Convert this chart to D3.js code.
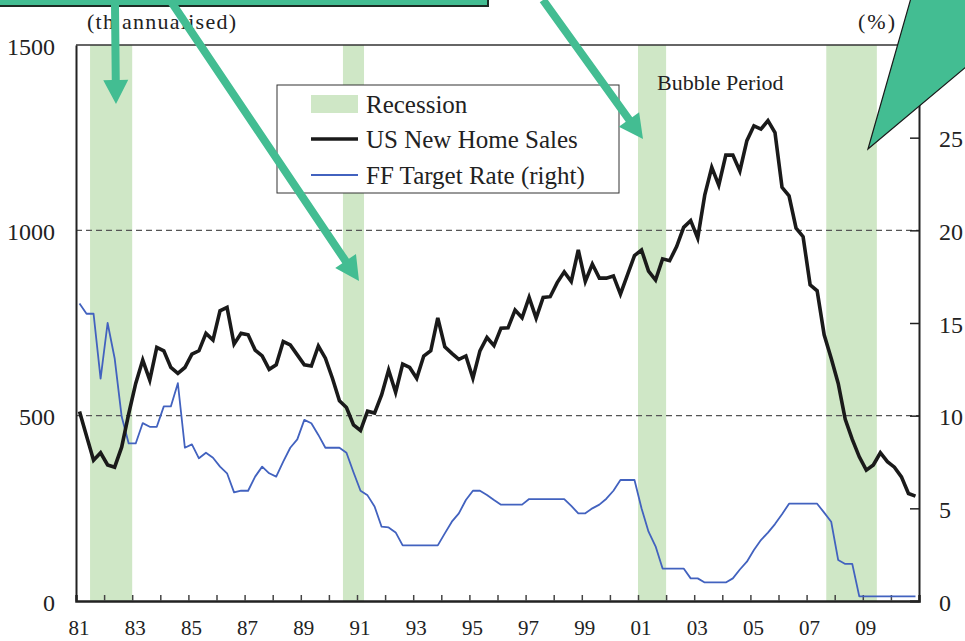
<!DOCTYPE html>
<html>
<head>
<meta charset="utf-8">
<script src="https://cdn.jsdelivr.net/npm/d3@7"></script>
<style>
  body { margin: 0; background: #fff; }
  svg { display: block; font-family: "Liberation Serif", "Times New Roman", serif; }
</style>
</head>
<body>
<div id="chart"></div>
<script>
// quarterly data, 1981Q1 .. 2010Q4
const startYear = 1981;

// US new home sales (thousand, annualised)
const homeSales = [
    511, 445, 380, 400,
    367, 361, 415, 505,
    587, 650, 596, 684,
    675, 630, 614, 630,
    666, 675, 722, 704,
    783, 792, 693, 722,
    718, 677, 661, 625,
    637, 700, 691, 664,
    637, 634, 688, 655,
    601, 540, 522, 475,
    460, 512, 507, 556,
    623, 563, 639, 630,
    601, 661, 675, 764,
    686, 668, 652, 661,
    601, 675, 711, 689,
    736, 737, 785, 764,
    819, 763, 819, 821,
    859, 888, 862, 947,
    862, 909, 871, 871,
    877, 828, 880, 932,
    947, 890, 866, 923,
    918, 956, 1008, 1026,
    979, 1095, 1170, 1122,
    1203, 1203, 1160, 1242,
    1282, 1273, 1296, 1264,
    1116, 1093, 1006, 983,
    853, 837, 718, 655,
    587, 490, 436, 389,
    353, 367, 400, 376,
    361, 335, 290, 283
];

// FF target rate (%)
const ffRate = [
    16.05, 15.5, 15.5, 12.0,
    15.0, 13.1, 9.95, 8.5,
    8.5, 9.6, 9.4, 9.4,
    10.5, 10.5, 11.75, 8.27,
    8.45, 7.7, 8.0, 7.73,
    7.25, 6.89, 5.86, 5.95,
    5.95, 6.71, 7.25, 6.89,
    6.71, 7.52, 8.27, 8.72,
    9.77, 9.59, 8.96, 8.27,
    8.27, 8.27, 8.0, 6.95,
    5.95, 5.7, 5.1, 4.01,
    3.97, 3.7, 3.0, 3.0,
    3.0, 3.0, 3.0, 3.0,
    3.65, 4.28, 4.73, 5.45,
    5.95, 5.95, 5.72, 5.45,
    5.2, 5.2, 5.2, 5.2,
    5.5, 5.5, 5.5, 5.5,
    5.5, 5.5, 5.13, 4.73,
    4.73, 5.0, 5.2, 5.52,
    5.95, 6.53, 6.53, 6.53,
    5.0, 3.74, 2.95, 1.75,
    1.75, 1.75, 1.75, 1.22,
    1.22, 1.0, 1.0, 1.0,
    1.0, 1.22, 1.7, 2.12,
    2.75, 3.29, 3.69, 4.15,
    4.68, 5.25, 5.25, 5.25,
    5.25, 5.25, 4.77, 4.28,
    2.21, 2.0, 2.0, 0.25,
    0.25, 0.25, 0.25, 0.25,
    0.25, 0.25, 0.25, 0.25
];

// recession periods [start, end] in years
const recessions = [[1981.5, 1983.0], [1990.5, 1991.25], [2001.0, 2002.0], [2007.7, 2009.5]];

const xLabels = ["81", "83", "85", "87", "89", "91", "93", "95", "97", "99", "01", "03", "05", "07", "09"];
const leftTicks = [0, 500, 1000, 1500];
const rightTicks = [0, 5, 10, 15, 20, 25];
const gridValues = [500, 1000];

const legendItems = ["Recession", "US New Home Sales", "FF Target Rate (right)"];

const width = 965, height = 641;
const margin = { top: 45, right: 46, bottom: 40, left: 76 };
const innerW = width - margin.left - margin.right;
const innerH = height - margin.top - margin.bottom;

const svg = d3.select("#chart").append("svg")
    .attr("width", width)
    .attr("height", height);

const g = svg.append("g").attr("transform", `translate(${margin.left},${margin.top})`);

const x = d3.scaleLinear().domain([1981, 2011]).range([0, innerW]);
const yL = d3.scaleLinear().domain([0, 1500]).range([innerH, 0]);
const yR = d3.scaleLinear().domain([0, 30]).range([innerH, 0]);

const qTime = (i) => startYear + (i + 0.5) / 4;

// recession bands
g.selectAll(".band")
    .data(recessions)
    .enter()
    .append("rect")
    .attr("x", (d) => x(d[0]))
    .attr("y", 0)
    .attr("width", (d) => x(d[1]) - x(d[0]))
    .attr("height", innerH)
    .attr("fill", "#cfe7c6");

// dashed grid
g.selectAll(".grid")
    .data(gridValues)
    .enter()
    .append("line")
    .attr("x1", 0)
    .attr("x2", innerW)
    .attr("y1", (d) => yL(d))
    .attr("y2", (d) => yL(d))
    .attr("stroke", "#555")
    .attr("stroke-width", 1.2)
    .attr("stroke-dasharray", "6,4");

// frame top
g.append("line")
    .attr("x1", 0).attr("x2", innerW)
    .attr("y1", 0).attr("y2", 0)
    .attr("stroke", "#333").attr("stroke-width", 1.5);

// left axis
const leftAxis = g.append("g")
    .call(d3.axisLeft(yL).tickValues(leftTicks).tickSize(0).tickPadding(21).tickFormat(d3.format("d")));
leftAxis.select(".domain").attr("stroke", "#222").attr("stroke-width", 2);
leftAxis.selectAll("text")
    .attr("font-size", "24px")
    .attr("font-family", "Liberation Serif")
    .attr("fill", "#222")
    .attr("dy", "0.38em");

// right axis
const rightAxis = g.append("g")
    .attr("transform", `translate(${innerW},0)`)
    .call(d3.axisRight(yR).tickValues(rightTicks).tickSize(-9).tickPadding(20));
rightAxis.select(".domain").attr("stroke", "#222").attr("stroke-width", 2);
rightAxis.selectAll("line").attr("stroke", "#222").attr("stroke-width", 1.5);
rightAxis.selectAll("text")
    .attr("font-size", "24px")
    .attr("font-family", "Liberation Serif")
    .attr("fill", "#222")
    .attr("dy", "0.38em");

// bottom axis: yearly ticks pointing up, labels every other year
const yearTicks = d3.range(1982, 2011);
const bottomAxis = g.append("g")
    .attr("transform", `translate(0,${innerH})`)
    .call(d3.axisBottom(x).tickValues(yearTicks).tickSize(-6).tickFormat(""));
bottomAxis.select(".domain").attr("stroke", "#222").attr("stroke-width", 2.5);
bottomAxis.selectAll("line").attr("stroke", "#444").attr("stroke-width", 1.5);

g.selectAll(".xlabel")
    .data(xLabels)
    .enter()
    .append("text")
    .attr("class", "xlabel")
    .attr("x", (d, i) => x(1981 + 2 * i) + 3)
    .attr("y", innerH + 34)
    .attr("text-anchor", "middle")
    .attr("font-size", "21px")
    .attr("fill", "#222")
    .text((d) => d);

// lines
const ffLine = d3.line()
    .x((d, i) => x(qTime(i)))
    .y((d) => yR(d));
const salesLine = d3.line()
    .x((d, i) => x(qTime(i)))
    .y((d) => yL(d));

g.append("path")
    .datum(ffRate)
    .attr("d", ffLine)
    .attr("fill", "none")
    .attr("stroke", "#4262bf")
    .attr("stroke-width", 1.8)
    .attr("stroke-linejoin", "round");

g.append("path")
    .datum(homeSales)
    .attr("d", salesLine)
    .attr("fill", "none")
    .attr("stroke", "#1a1a1a")
    .attr("stroke-width", 3.6)
    .attr("stroke-linejoin", "miter");

// unit labels and note
svg.append("text")
    .attr("x", 87).attr("y", 29)
    .attr("font-size", "22px").attr("fill", "#222")
    .attr("textLength", 149).attr("lengthAdjust", "spacing")
    .text("(th annualised)");
svg.append("text")
    .attr("x", 858).attr("y", 29)
    .attr("font-size", "22px").attr("fill", "#222")
    .attr("textLength", 37).attr("lengthAdjust", "spacing")
    .text("(%)");
svg.append("text")
    .attr("x", 657).attr("y", 90)
    .attr("font-size", "22px").attr("fill", "#222")
    .text("Bubble Period");

// legend
const legend = svg.append("g").attr("transform", "translate(277,85)");
legend.append("rect")
    .attr("width", 342).attr("height", 108)
    .attr("fill", "#fff").attr("stroke", "#333").attr("stroke-width", 1);
const rowY = [19, 54, 90];
legend.append("rect")
    .attr("x", 34).attr("y", rowY[0] - 9)
    .attr("width", 47).attr("height", 18)
    .attr("fill", "#cfe7c6");
legend.append("line")
    .attr("x1", 34).attr("x2", 81).attr("y1", rowY[1]).attr("y2", rowY[1])
    .attr("stroke", "#1a1a1a").attr("stroke-width", 3.6);
legend.append("line")
    .attr("x1", 34).attr("x2", 81).attr("y1", rowY[2]).attr("y2", rowY[2])
    .attr("stroke", "#4262bf").attr("stroke-width", 1.8);
legend.selectAll(".ltext")
    .data(legendItems)
    .enter()
    .append("text")
    .attr("x", 89)
    .attr("y", (d, i) => rowY[i] + 9)
    .attr("font-size", "25px")
    .attr("fill", "#222")
    .text((d) => d);

// overlay annotations (green callouts)
const green = "#43bd92";
const ann = svg.append("g");

ann.append("rect")
    .attr("x", -3).attr("y", -3)
    .attr("width", 491).attr("height", 9)
    .attr("fill", green).attr("stroke", "#1d2b24").attr("stroke-width", 2);

function arrow(x0, y0, x1, y1) {
    const dx = x1 - x0, dy = y1 - y0;
    const len = Math.sqrt(dx * dx + dy * dy);
    const ux = dx / len, uy = dy / len;
    const nx = -uy, ny = ux;
    const headLen = 24, headW = 12.5, shaftW = 4;
    const bx = x1 - ux * headLen, by = y1 - uy * headLen;
    const pts = [
        [x0 + nx * shaftW, y0 + ny * shaftW],
        [bx + nx * shaftW, by + ny * shaftW],
        [bx + nx * headW, by + ny * headW],
        [x1, y1],
        [bx - nx * headW, by - ny * headW],
        [bx - nx * shaftW, by - ny * shaftW],
        [x0 - nx * shaftW, y0 - ny * shaftW]
    ];
    ann.append("polygon")
        .attr("points", pts.map((p) => p.join(",")).join(" "))
        .attr("fill", green);
}

arrow(115, 5, 116, 104);
arrow(170, 0, 359, 281);
arrow(543, 0, 643, 139);

ann.append("polygon")
    .attr("points", "868,149 911,-2 967,-2 967,66")
    .attr("fill", green)
    .attr("stroke", "#1a1a1a")
    .attr("stroke-width", 1.2);
</script>
</body>
</html>
